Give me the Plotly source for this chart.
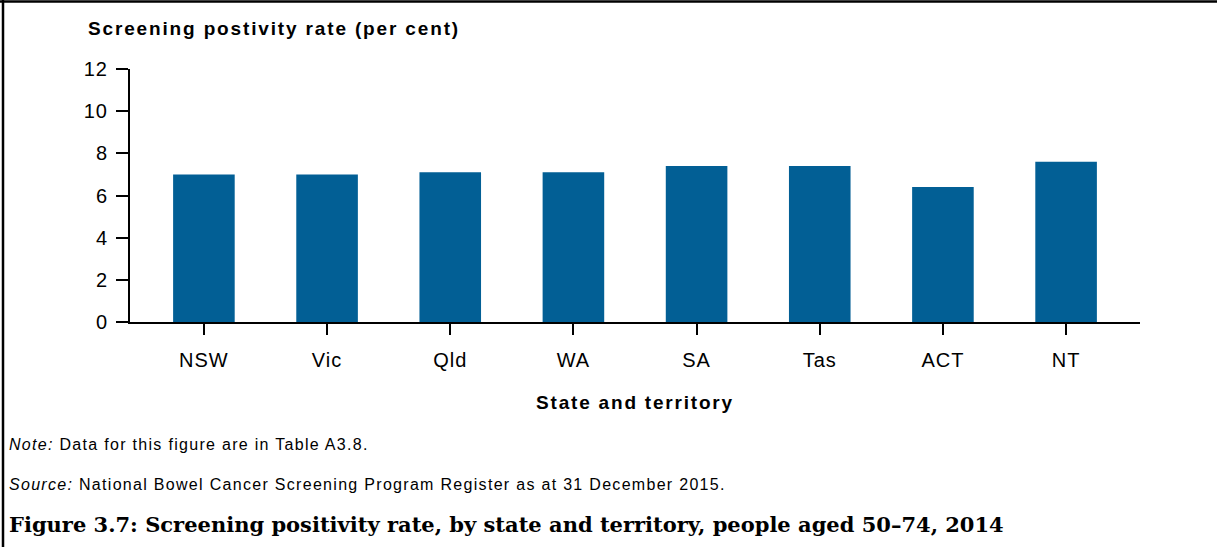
import plotly.graph_objects as go

categories = ["NSW", "Vic", "Qld", "WA", "SA", "Tas", "ACT", "NT"]
positivity_rate = [7.0, 7.0, 7.1, 7.1, 7.4, 7.4, 6.4, 7.6]
y_ticks = [0, 2, 4, 6, 8, 10, 12]

BAR = "#025f95"
SANS = "Liberation Sans, Arial, sans-serif"
W, H = 1226, 547
L, R, T, B = 130, 86, 69, 225
PW, PH = W - L - R, H - T - B


def sp(text, px):
    return "<span style='letter-spacing:%spx'>%s</span>" % (px, text)


fig = go.Figure()
fig.add_trace(go.Bar(
    x=list(range(len(categories))), y=positivity_rate,
    marker=dict(color=BAR, line=dict(width=0)),
    width=0.5, hoverinfo="x+y",
))

fig.update_layout(
    width=W, height=H,
    margin=dict(l=L, r=R, t=T, b=B),
    paper_bgcolor="white", plot_bgcolor="white",
    showlegend=False,
    font=dict(family=SANS, color="black", size=20),
    xaxis=dict(
        range=[-0.6, 7.6], tickmode="array",
        tickvals=list(range(len(categories))),
        ticktext=[sp(c, 1) for c in categories],
        showline=True, linecolor="black", linewidth=2,
        ticks="outside", ticklen=11, tickwidth=2, tickcolor="black",
        showgrid=False, zeroline=False,
        tickfont=dict(size=20), ticklabelstandoff=8,
        title=dict(text="<b>" + sp("State and territory", 1.8) + "</b>",
                   font=dict(size=19), standoff=26),
    ),
    yaxis=dict(
        range=[0, 12], tickmode="array", tickvals=y_ticks,
        ticktext=[sp(str(v), 1) for v in y_ticks],
        showline=True, linecolor="black", linewidth=2,
        ticks="outside", ticklen=12, tickwidth=2, tickcolor="black",
        showgrid=False, zeroline=False,
        tickfont=dict(size=20), ticklabelstandoff=4,
    ),
)

annotations = [
    dict(text="<b>" + sp("Screening postivity rate (per cent)", 1.85) + "</b>",
         x=86, y=28, font=dict(size=19)),
    dict(text=sp("<i>Note:</i> Data for this figure are in Table A3.8.", 1.3),
         x=7, y=444, font=dict(size=16)),
    dict(text=sp("<i>Source:</i> National Bowel Cancer Screening Program Register as at 31 December 2015.", 1.3),
         x=7, y=484, font=dict(size=16)),
    dict(text="<b>Figure 3.7: Screening positivity rate, by state and territory, people aged 50–74, 2014</b>",
         x=7, y=524, font=dict(size=21, family="DejaVu Serif, serif")),
]
for a in annotations:
    fig.add_annotation(
        text=a["text"], xref="paper", yref="paper",
        x=(a["x"] - L) / PW,
        y=1 - (a["y"] - T) / PH,
        xanchor="left", yanchor="middle", showarrow=False,
        font=a["font"], align="left",
    )

# frame lines (top and left)
fig.add_shape(type="line", xref="paper", yref="paper",
              x0=(0 - L) / PW, x1=(1217 - L) / PW,
              y0=1 + (T - 1.5) / PH, y1=1 + (T - 1.5) / PH,
              line=dict(color="black", width=2.5))
fig.add_shape(type="line", xref="paper", yref="paper",
              x0=(3 - L) / PW, x1=(3 - L) / PW,
              y0=1 + T / PH, y1=-(H - T - PH) / PH,
              line=dict(color="black", width=2.5))

fig.write_html("out.html", config={"displayModeBar": False},
               post_script="document.body.style.margin='0';document.body.style.overflow='hidden';")
